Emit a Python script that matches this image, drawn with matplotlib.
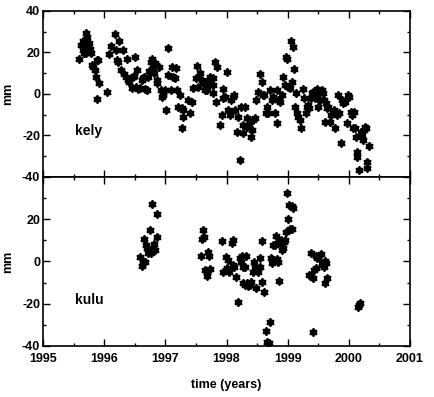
"""
Two-panel GPS residual time series (kely, kulu)
"""

import matplotlib
matplotlib.use('Agg')
import matplotlib.pyplot as plt
import numpy as np
from matplotlib.ticker import MultipleLocator

# kely: time (years), displacement (mm)
kely_t = [1995.589, 1995.621, 1995.654, 1995.703, 1995.719, 1995.670, 1995.654, 1995.703,
          1995.736, 1995.768, 1995.752, 1995.785, 1995.801, 1995.817, 1995.850, 1995.866,
          1995.883, 1995.899, 1995.915, 1995.883, 1996.046,
          1996.079, 1996.112, 1996.177, 1996.194, 1996.243, 1996.226, 1996.210, 1996.308,
          1996.275, 1996.324, 1996.357, 1996.373, 1996.390, 1996.406, 1996.455, 1996.472,
          1996.488, 1996.504, 1996.521, 1996.537, 1996.553, 1996.586, 1996.619, 1996.635,
          1996.651, 1996.668, 1996.700, 1996.717, 1996.733, 1996.766, 1996.782, 1996.799,
          1996.815, 1996.831, 1996.864, 1996.864, 1996.897, 1996.929, 1996.946, 1996.962,
          1996.962, 1996.995, 1997.011, 1997.044, 1997.044, 1997.093, 1997.109, 1997.126,
          1997.158, 1997.175, 1997.191, 1997.207, 1997.240, 1997.273, 1997.289, 1997.289,
          1997.273, 1997.371, 1997.403, 1997.436, 1997.452, 1997.502, 1997.518, 1997.534,
          1997.567, 1997.600, 1997.616, 1997.649, 1997.681, 1997.698, 1997.714, 1997.730,
          1997.780, 1997.780, 1997.780, 1997.812, 1997.845, 1997.829, 1997.894, 1997.927,
          1997.943, 1997.943, 1997.976, 1998.008, 1998.025, 1998.057, 1998.074, 1998.107,
          1998.123, 1998.139, 1998.172, 1998.188, 1998.221, 1998.237, 1998.270, 1998.270,
          1998.303, 1998.335, 1998.335, 1998.368, 1998.401, 1998.417, 1998.434, 1998.466,
          1998.483, 1998.515, 1998.548, 1998.581, 1998.597, 1998.613, 1998.646, 1998.662,
          1998.679, 1998.711, 1998.744, 1998.761, 1998.793, 1998.826, 1998.826, 1998.842,
          1998.875, 1998.908, 1998.924, 1998.957, 1998.973, 1998.989, 1999.006, 1999.038,
          1999.055, 1999.088, 1999.104, 1999.071, 1999.120, 1999.137, 1999.153, 1999.169,
          1999.202, 1999.218, 1999.251, 1999.267, 1999.300, 1999.316, 1999.333, 1999.349,
          1999.382, 1999.398, 1999.415, 1999.447, 1999.464, 1999.480, 1999.496, 1999.529,
          1999.562, 1999.578, 1999.594, 1999.611, 1999.627, 1999.643, 1999.660, 1999.692,
          1999.709, 1999.742, 1999.758, 1999.774, 1999.807, 1999.823, 1999.840, 1999.872,
          1999.889, 1999.905, 1999.938, 1999.970, 1999.987, 2000.003, 2000.036, 2000.052,
          2000.069, 2000.085, 2000.101, 2000.118, 2000.134, 2000.134, 2000.167, 2000.199,
          2000.216, 2000.232, 2000.249, 2000.265, 2000.281, 2000.298, 2000.298, 2000.330]
kely_mm = [16.9, 23.6, 25.5, 29.4, 27.5, 19.8, 21.2, 19.8,
           23.6, 21.7, 24.6, 19.8, 14.0, 13.0, 11.6, 8.2,
           16.4, 16.4, 5.3, -2.4, 1.0,
           19.3, 23.1, 28.9, 21.2, 25.5, 15.4, 16.4, 21.2,
           11.6, 9.6, 8.2, 16.9, 6.7, 5.8, 2.9, 8.2,
           8.7, 17.8, 3.4, 11.6, 2.4, 2.9, 6.7, 7.7,
           8.2, 2.4, 1.9, 8.2, 11.1, 15.4, 16.9, 12.5,
           10.1, 14.9, 6.7, 5.3, 13.0, 1.9, -1.4, -0.5,
           0.5, 1.9, -7.7, 22.2, 9.2, 1.9, 13.0, 8.2,
           7.7, 12.5, 1.9, -6.3, -0.5, -6.7, -11.1, -7.7,
           -16.4, -2.9, -9.2, -3.9, 2.9, 7.7, 13.5, 3.4,
           10.1, 6.7, 5.3, 1.9, 1.9, 4.3, 6.7, 8.2,
           7.7, 4.3, 0.5, 15.4, 13.0, -3.9, -14.9, -10.1,
           2.4, -1.9, -1.4, 10.6, -7.7, -10.1, -2.9, -1.4,
           -0.5, -7.7, -18.3, -11.1, -31.8, -6.3, -18.8, -14.9,
           -6.3, -11.6, -15.9, -14.9, -20.7, -17.4, -12.5, -11.6,
           -2.9, 1.0, 9.6, 5.8, -0.5, -0.5, -9.2, -6.3,
           -9.2, 1.9, -2.9, -1.4, -9.2, 1.9, -14.0, -2.9,
           -3.9, -0.5, 8.2, 4.3, 17.8, 16.9, 3.4, 2.9,
           25.5, 22.7, 12.1, 5.8, -6.3, 0.5, -9.2, -11.1,
           -12.5, -16.4, 2.4, -1.9, -9.2, -6.3, -5.3, -6.7,
           -1.9, 0.5, 1.0, -1.9, -0.5, 2.4, -6.3, -2.9,
           1.9, 0.5, -2.9, -13.5, -4.3, -6.7, -6.3, -13.5,
           -10.1, -8.7, -7.7, -16.4, -10.1, -0.5, -9.2, -23.6,
           -2.9, -4.3, -3.9, -14.0, -0.5, -1.4, -8.7, -10.1,
           -16.4, -8.7, -16.4, -20.7, -28.0, -30.4, -36.6, -18.3,
           -19.8, -22.2, -17.4, -15.9, -16.4, -35.7, -32.8, -25.1]

# kulu: time (years), displacement (mm)
kulu_t = [1996.782, 1996.864, 1996.750, 1996.651, 1996.864, 1996.815, 1996.700, 1996.733,
          1996.799, 1996.831, 1996.717, 1996.766, 1996.586, 1996.635, 1996.668, 1996.619,
          1996.684,
          1997.616, 1997.632, 1997.600, 1997.583, 1997.698, 1997.714, 1997.649, 1997.681,
          1997.730, 1997.681,
          1997.927, 1998.107, 1998.090, 1997.992, 1998.025, 1997.943, 1998.041, 1998.008,
          1998.123, 1998.107, 1998.156, 1998.188, 1998.221, 1998.254, 1998.237, 1998.270,
          1998.319, 1998.303, 1998.270, 1998.303, 1998.335, 1998.352, 1998.384, 1998.401,
          1998.434, 1998.450, 1998.466, 1998.483, 1998.499, 1998.515, 1998.548, 1998.548,
          1998.581, 1998.581, 1998.613, 1998.646, 1998.662, 1998.695, 1998.711, 1998.728,
          1998.744, 1998.761, 1998.793, 1998.810, 1998.826, 1998.842, 1998.859, 1998.842,
          1998.891, 1998.908, 1998.924, 1998.940, 1998.957, 1998.973, 1998.989, 1999.006,
          1999.022, 1999.071, 1999.088, 1999.038, 1999.071,
          1999.382, 1999.464, 1999.545, 1999.431, 1999.464, 1999.480, 1999.562, 1999.578,
          1999.611, 1999.627, 1999.594, 1999.349, 1999.415, 1999.643, 1999.611, 1999.415,
          2000.150, 2000.183, 2000.167]
kulu_mm = [27.2, 22.5, 14.9, 10.6, 11.6, 8.2, 6.4, 4.9,
           5.9, 5.4, 4.0, 4.0, 2.1, 0.2, -0.3, -2.2,
           7.8,
           14.9, 11.6, 10.6, 2.6, 4.5, 2.6, -4.1, -5.0,
           -3.6, -6.9,
           9.7, 10.1, 8.7, 2.1, 0.7, -5.0, -5.0, -3.1,
           -2.7, -1.7, -7.4, -19.2, 1.6, 2.6, -0.3, -2.7,
           2.6, -2.7, -10.2, -11.2, -10.2, -11.7, -11.2, -9.8,
           -5.0, -0.3, -2.7, -12.6, -4.1, -5.0, 1.6, -2.7,
           9.7, -9.8, -14.5, -33.0, -38.2, -38.7, -28.7, 1.6,
           -0.8, 7.8, 7.8, 12.0, 1.1, -0.3, -9.3, 8.7,
           10.1, 5.4, 6.4, 9.2, 10.1, 13.9, 32.4, 20.1,
           26.7, 26.3, 25.3, 15.4, 15.4,
           4.0, 2.6, 3.5, -4.1, -3.1, 1.6, -0.8, -1.7,
           0.2, -0.8, -2.7, -6.4, -7.9, -7.9, -10.2, -33.5,
           -21.6, -19.7, -20.7]

y_ticks = [-40, -20, 0, 20, 40]
top_labels = ['-40', '-20', '0', '20', '40']
bottom_labels = ['-40', '-20', '0', '20', '']

plt.rcParams['font.family'] = ['Liberation Sans', 'DejaVu Sans']
plt.rcParams['font.weight'] = 'bold'

fig = plt.figure(figsize=(4.35, 3.97), dpi=100)
ax1 = fig.add_axes([0.0989, 0.5542, 0.8436, 0.4181])
ax2 = fig.add_axes([0.0989, 0.1285, 0.8436, 0.4257])

panels = [(ax1, kely_t, kely_mm, 'kely', top_labels),
          (ax2, kulu_t, kulu_mm, 'kulu', bottom_labels)]
for ax, t, mm, name, ylabels in panels:
    ax.plot(t, mm, 'o', color='black', markersize=5, markeredgewidth=0)
    ax.plot(t, mm, marker=(6, 2, 0), linestyle='none', color='black',
            markersize=6, markeredgewidth=1.2)
    ax.set_xlim(1995, 2001)
    ax.set_ylim(-40, 40)
    ax.xaxis.set_major_locator(MultipleLocator(1))
    ax.xaxis.set_minor_locator(MultipleLocator(0.5))
    ax.set_yticks(y_ticks, ylabels)
    ax.yaxis.set_minor_locator(MultipleLocator(10))
    ax.tick_params(which='both', direction='in', top=True, right=True,
                   labelsize=9, width=1, pad=2)
    ax.tick_params(axis='x', pad=5)
    ax.tick_params(which='major', length=5)
    ax.tick_params(which='minor', length=2.5)
    for sp in ax.spines.values():
        sp.set_linewidth(1.2)
    ax.set_ylabel('mm', fontsize=9, fontweight='bold', labelpad=6)
    ax.text(1995.52, -18, name, fontsize=10, fontweight='bold', va='center')

ax1.tick_params(labelbottom=False)
ax2.set_xlabel('time (years)', fontsize=9, fontweight='bold', labelpad=10)

plt.savefig('out.png', dpi=100)
plt.close(fig)
